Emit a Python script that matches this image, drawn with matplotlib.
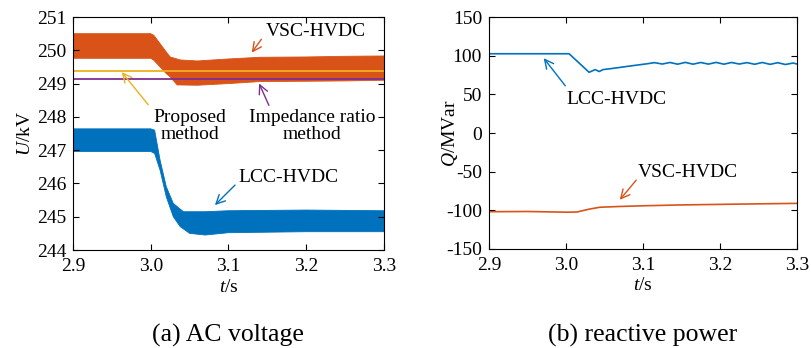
import matplotlib
matplotlib.use("Agg")
import matplotlib.pyplot as plt

plt.rcParams['font.family'] = ['Liberation Serif', 'DejaVu Serif']
plt.rcParams['mathtext.fontset'] = 'custom'
plt.rcParams['mathtext.rm'] = 'Liberation Serif'
plt.rcParams['mathtext.it'] = 'Liberation Serif:italic'
plt.rcParams['axes.unicode_minus'] = False

blue = '#0072BD'
orange = '#D95319'
yellow = '#EDB120'
purple = '#7E2F8E'

# (a) AC voltage, envelope of the ripple band (kV)
t_vsc_u = [2.9, 3.0, 3.004, 3.012, 3.02, 3.025, 3.038, 3.06, 3.1, 3.14, 3.2, 3.25, 3.3]
vsc_upper = [250.5, 250.5, 250.45, 250.2, 249.95, 249.8, 249.71, 249.68, 249.74, 249.79, 249.8, 249.82, 249.83]
t_vsc_l = [2.9, 3.0, 3.004, 3.012, 3.02, 3.025, 3.034, 3.06, 3.1, 3.14, 3.2, 3.25, 3.3]
vsc_lower = [249.76, 249.76, 249.7, 249.5, 249.3, 249.2, 248.96, 248.95, 249.0, 249.06, 249.07, 249.08, 249.1]

t_lcc_u = [2.9, 3.0, 3.005, 3.012, 3.02, 3.029, 3.042, 3.07, 3.1, 3.2, 3.3]
lcc_upper = [247.64, 247.64, 247.6, 246.7, 245.9, 245.4, 245.15, 245.15, 245.18, 245.2, 245.18]
t_lcc_l = [2.9, 3.0, 3.005, 3.012, 3.02, 3.029, 3.038, 3.05, 3.07, 3.1, 3.2, 3.3]
lcc_lower = [246.96, 246.96, 246.9, 246.4, 245.6, 245.0, 244.7, 244.5, 244.45, 244.52, 244.55, 244.55]

proposed_u = 249.39
impedance_u = 249.13

# (b) reactive power (MVar)
t_lcc_q = [2.9, 3.004, 3.03, 3.038, 3.043, 3.048, 3.061, 3.083, 3.105, 3.115, 3.125, 3.135,
           3.145, 3.155, 3.165, 3.175, 3.185, 3.195, 3.205, 3.215, 3.225, 3.235, 3.245,
           3.255, 3.265, 3.275, 3.285, 3.295, 3.3]
lcc_q = [102.5, 102.5, 78.5, 82, 79.5, 82, 83.6, 86.6, 89.5, 91.0, 89.2, 91.2, 89.0,
         91.3, 89.0, 91.2, 89.1, 91.3, 89.0, 91.2, 89.2, 91.0, 88.9, 91.2, 88.8,
         90.9, 88.6, 90.5, 89.2]
t_vsc_q = [2.9, 2.95, 3.0, 3.014, 3.03, 3.044, 3.07, 3.105, 3.15, 3.2, 3.25, 3.3]
vsc_q = [-101.8, -101.5, -102.4, -102.2, -98.5, -96.0, -95.0, -94.0, -93.0, -92.3, -91.6, -91.0]

fig = plt.figure(figsize=(8.11, 3.48), dpi=100)
ax1 = fig.add_axes([0.0900, 0.2816, 0.3835, 0.6695])
ax2 = fig.add_axes([0.6030, 0.2845, 0.3797, 0.6666])

fs = 14
xt = [2.9, 3.0, 3.1, 3.2, 3.3]
xtl = ['2.9', '3.0', '3.1', '3.2', '3.3']

# left panel
ax1.fill(t_vsc_u + t_vsc_l[::-1], vsc_upper + vsc_lower[::-1], color=orange, lw=0.6)
ax1.fill(t_lcc_u + t_lcc_l[::-1], lcc_upper + lcc_lower[::-1], color=blue, lw=0.6)
ax1.plot([2.9, 3.3], [proposed_u, proposed_u], color=yellow, lw=1.3)
ax1.plot([2.9, 3.3], [impedance_u, impedance_u], color=purple, lw=1.3)

ax1.set_xlim(2.9, 3.3)
ax1.set_ylim(244, 251)
ax1.set_xticks(xt)
ax1.set_xticklabels(xtl)
ax1.set_yticks(range(244, 252))
ax1.set_xlabel(r'$\mathit{t}$/s', fontsize=fs)
ax1.set_ylabel(r'$\mathit{U}$/kV', fontsize=fs)
ax1.yaxis.set_label_coords(-0.154, 0.5)

arrow_kw = dict(arrowstyle='->', lw=1.0, mutation_scale=16)
ax1.text(3.2125, 250.55, 'VSC-HVDC', fontsize=fs, ha='center', va='center')
ax1.annotate('', xy=(3.1277, 249.86), xytext=(3.1444, 250.40),
             arrowprops=dict(color=orange, **arrow_kw))
ax1.text(3.0505, 247.73, 'Proposed\nmethod', fontsize=fs, ha='center', va='center',
         linespacing=1.0)
ax1.annotate('', xy=(2.9605, 249.41), xytext=(2.999, 248.30),
             arrowprops=dict(color=yellow, **arrow_kw))
ax1.text(3.2074, 247.73, 'Impedance ratio\nmethod', fontsize=fs, ha='center', va='center',
         linespacing=1.0)
ax1.annotate('', xy=(3.1379, 249.08), xytext=(3.1534, 248.27),
             arrowprops=dict(color=purple, **arrow_kw))
ax1.text(3.1765, 246.19, 'LCC-HVDC', fontsize=fs, ha='center', va='center')
ax1.annotate('', xy=(3.080, 245.29), xytext=(3.1109, 246.01),
             arrowprops=dict(color=blue, **arrow_kw))

# right panel
ax2.plot(t_lcc_q, lcc_q, color=blue, lw=1.2)
ax2.plot(t_vsc_q, vsc_q, color=orange, lw=1.2)
ax2.set_xlim(2.9, 3.3)
ax2.set_ylim(-150, 150)
ax2.set_xticks(xt)
ax2.set_xticklabels(xtl)
ax2.set_yticks(range(-150, 151, 50))
ax2.set_xlabel(r'$\mathit{t}$/s', fontsize=fs)
ax2.set_ylabel(r'$\mathit{Q}$/MVar', fontsize=fs)
ax2.yaxis.set_label_coords(-0.127, 0.5)

ax2.text(3.065, 42.7, 'LCC-HVDC', fontsize=fs, ha='center', va='center')
ax2.annotate('', xy=(2.9688, 99.6), xytext=(3.0013, 58.2),
             arrowprops=dict(color=blue, **arrow_kw))
ax2.text(3.1584, -51.7, 'VSC-HVDC', fontsize=fs, ha='center', va='center')
ax2.annotate('', xy=(3.0675, -89.2), xytext=(3.0935, -58.2),
             arrowprops=dict(color=orange, **arrow_kw))

for ax in (ax1, ax2):
    ax.tick_params(direction='in', top=True, right=True, length=4, width=0.8,
                   labelsize=fs)
    ax.tick_params(axis='x', pad=6)
    ax.tick_params(axis='y', pad=5)
    ax.xaxis.set_label_coords(0.5, -0.159)
    ax.xaxis.label.set_va('center')
    ax.yaxis.label.set_va('center')
    for s in ax.spines.values():
        s.set_linewidth(0.8)

fig.text(228 / 811, 1 - 335 / 348, '(a) AC voltage', fontsize=18.5, ha='center', va='center')
fig.text(643 / 811, 1 - 335 / 348, '(b) reactive power', fontsize=18.5, ha='center', va='center')

fig.savefig('out.png', dpi=100)
